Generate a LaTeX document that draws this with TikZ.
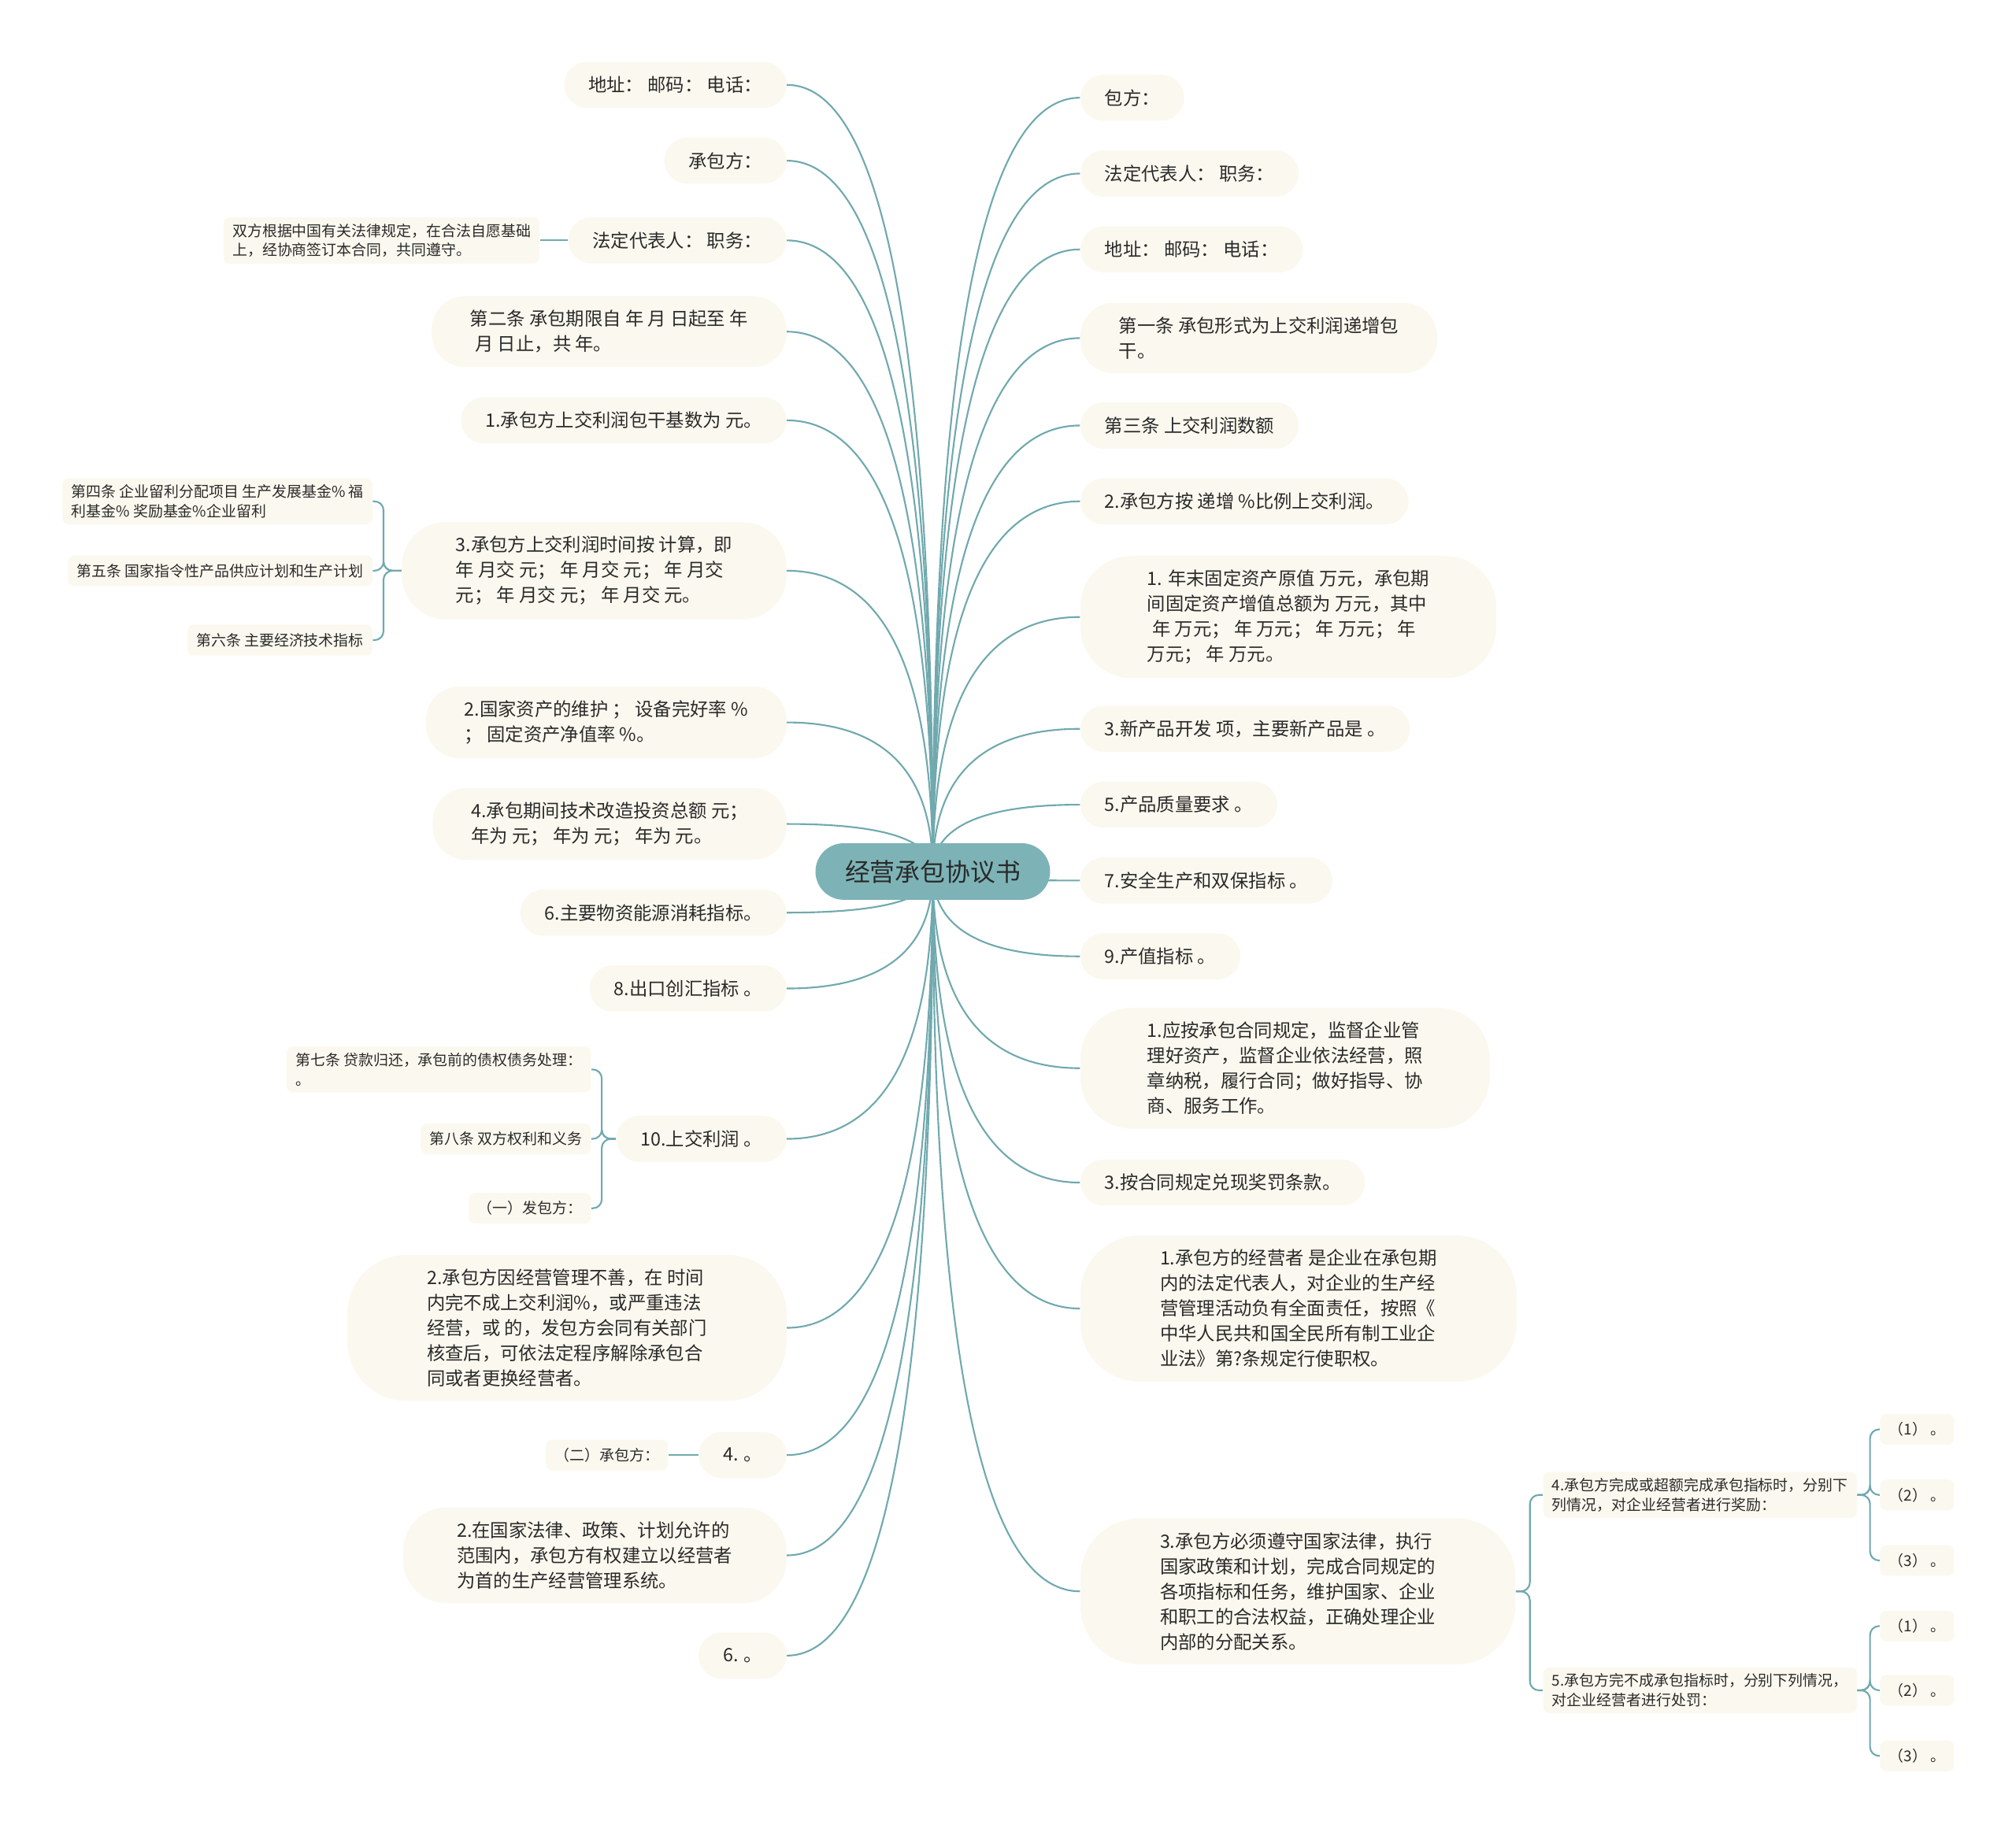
\documentclass[tikz,border=0pt]{standalone}
\usepackage{fontspec}
\newfontfamily\cjk{Noto Sans CJK SC}
\usepackage{tikz}
\usetikzlibrary{backgrounds,calc}
\definecolor{rootTeal}{HTML}{7DB3B7}
\definecolor{branchTeal}{HTML}{70A9AE}
\definecolor{topicCream}{HTML}{FBF9EF}
\definecolor{inkDark}{HTML}{2A2A2A}

\newcommand\rootfont{\cjk\fontsize{19.5pt}{24pt}\selectfont}
\newcommand\topicfont{\cjk\fontsize{14.3pt}{19.6pt}\selectfont}
\newcommand\leaffont{\cjk\fontsize{11.6pt}{15pt}\selectfont}

\tikzset{
  rootnode/.style={fill=rootTeal, text=inkDark, font=\rootfont,
    rounded corners=22pt, minimum height=44pt, inner xsep=23pt},
  topicnode/.style={fill=topicCream, text=inkDark, font=\topicfont, align=left,
    rounded corners=18pt, minimum height=36pt, inner xsep=19pt, inner ysep=11pt},
  lines2/.style={inner xsep=30pt, rounded corners=26pt},
  lines3/.style={inner xsep=42pt, rounded corners=34pt},
  lines4/.style={inner xsep=52pt, rounded corners=40pt},
  lines5/.style={inner xsep=62pt, rounded corners=46pt},
  leafnode/.style={fill=topicCream, text=inkDark, font=\leaffont, align=left,
    rounded corners=5pt, minimum height=24pt, inner xsep=7pt, inner ysep=5pt},
  branchline/.style={draw=branchTeal, line width=1.3pt},
  bracketline/.style={branchline, rounded corners=7pt},
}

\begin{document}
\begin{tikzpicture}[x=1pt, y=-1pt]
  \useasboundingbox (0,0) rectangle (1568,1428);

  % root
  \node[rootnode] (root) at (725.5,678) {经营承包协议书};

  % left side
  \node[topicnode, anchor=east] (L1) at (612,66) {地址： 邮码： 电话：};
  \node[topicnode, anchor=east] (L2) at (612,125) {承包方：};
  \node[topicnode, anchor=east] (L3) at (612,187) {法定代表人： 职务：};
  \node[topicnode, lines2, anchor=east] (L4) at (612,258) {第二条 承包期限自 年 月 日起至 年\\\hspace*{4pt}月 日止，共 年。};
  \node[topicnode, anchor=east] (L5) at (612,327) {1.承包方上交利润包干基数为 元。};
  \node[topicnode, lines3, anchor=east] (L6) at (612,444) {3.承包方上交利润时间按 计算，即\\年 月交 元； 年 月交 元； 年 月交\\元； 年 月交 元； 年 月交 元。};
  \node[topicnode, lines2, anchor=east] (L7) at (612,562) {2.国家资产的维护 ； 设备完好率 \%\\； 固定资产净值率 \%。};
  \node[topicnode, lines2, anchor=east] (L8) at (612,641) {4.承包期间技术改造投资总额 元；\\年为 元； 年为 元； 年为 元。};
  \node[topicnode, anchor=east] (L9) at (612,710) {6.主要物资能源消耗指标。};
  \node[topicnode, anchor=east] (L10) at (612,769) {8.出口创汇指标 。};
  \node[topicnode, anchor=east] (L11) at (612,886) {10.上交利润 。};
  \node[topicnode, lines5, anchor=east] (L12) at (612,1033) {2.承包方因经营管理不善，在 时间\\内完不成上交利润\%，或严重违法\\经营，或 的，发包方会同有关部门\\核查后，可依法定程序解除承包合\\同或者更换经营者。};
  \node[topicnode, anchor=east] (L13) at (612,1132) {4. 。};
  \node[topicnode, lines3, anchor=east] (L14) at (612,1210) {2.在国家法律、政策、计划允许的\\范围内，承包方有权建立以经营者\\为首的生产经营管理系统。};
  \node[topicnode, anchor=east] (L15) at (612,1288) {6. 。};

  % right side
  \node[topicnode, anchor=west] (R1) at (840,76) {包方：};
  \node[topicnode, anchor=west] (R2) at (840,135) {法定代表人： 职务：};
  \node[topicnode, anchor=west] (R3) at (840,194) {地址： 邮码： 电话：};
  \node[topicnode, lines2, anchor=west] (R4) at (840,263) {第一条 承包形式为上交利润递增包\\干。};
  \node[topicnode, anchor=west] (R5) at (840,331) {第三条 上交利润数额};
  \node[topicnode, anchor=west] (R6) at (840,390) {2.承包方按 递增 \%比例上交利润。};
  \node[topicnode, lines4, anchor=west] (R7) at (840,480) {1. 年末固定资产原值 万元，承包期\\间固定资产增值总额为 万元，其中\\\hspace*{4pt}年 万元； 年 万元； 年 万元； 年\\万元； 年 万元。};
  \node[topicnode, anchor=west] (R8) at (840,567) {3.新产品开发 项，主要新产品是 。};
  \node[topicnode, anchor=west] (R9) at (840,626) {5.产品质量要求 。};
  \node[topicnode, anchor=west] (R10) at (840,685) {7.安全生产和双保指标 。};
  \node[topicnode, anchor=west] (R11) at (840,744) {9.产值指标 。};
  \node[topicnode, lines4, anchor=west] (R12) at (840,831) {1.应按承包合同规定，监督企业管\\理好资产，监督企业依法经营，照\\章纳税，履行合同；做好指导、协\\商、服务工作。};
  \node[topicnode, anchor=west] (R13) at (840,920) {3.按合同规定兑现奖罚条款。};
  \node[topicnode, lines5, anchor=west] (R14) at (840,1018) {1.承包方的经营者 是企业在承包期\\内的法定代表人，对企业的生产经\\营管理活动负有全面责任，按照《\\中华人民共和国全民所有制工业企\\业法》第?条规定行使职权。};
  \node[topicnode, lines5, anchor=west] (R15) at (840,1238) {3.承包方必须遵守国家法律，执行\\国家政策和计划，完成合同规定的\\各项指标和任务，维护国家、企业\\和职工的合法权益，正确处理企业\\内部的分配关系。};

  % sub topics
  \node[leafnode, anchor=east] (L3a) at (420,187) {双方根据中国有关法律规定，在合法自愿基础\\上，经协商签订本合同，共同遵守。};
  \node[leafnode, anchor=east] (L6a) at (290,390) {第四条 企业留利分配项目 生产发展基金\% 福\\利基金\% 奖励基金\%企业留利};
  \node[leafnode, anchor=east] (L6b) at (290,444) {第五条 国家指令性产品供应计划和生产计划};
  \node[leafnode, anchor=east] (L6c) at (290,498) {第六条 主要经济技术指标};
  \node[leafnode, anchor=east] (L11a) at (460,832) {第七条 贷款归还，承包前的债权债务处理：\\。};
  \node[leafnode, anchor=east] (L11b) at (460,886) {第八条 双方权利和义务};
  \node[leafnode, anchor=east] (L11c) at (460,940) {（一）发包方：};
  \node[leafnode, anchor=east] (L13a) at (520,1132) {（二）承包方：};
  \node[leafnode, anchor=west] (R15a) at (1200,1163) {4.承包方完成或超额完成承包指标时，分别下\\列情况，对企业经营者进行奖励：};
  \node[leafnode, anchor=west] (R15b) at (1200,1315) {5.承包方完不成承包指标时，分别下列情况，\\对企业经营者进行处罚：};
  \foreach \k/\y in {1/1112,2/1163,3/1214}
    \node[leafnode, anchor=west] (R15a\k) at (1462,\y) {（\k） 。};
  \foreach \k/\y in {1/1265,2/1315,3/1366}
    \node[leafnode, anchor=west] (R15b\k) at (1462,\y) {（\k） 。};

  % bracket joints
  \coordinate (L6j) at ([xshift=-14pt]L6.west);
  \coordinate (L11j) at ([xshift=-11pt]L11.west);
  \coordinate (R15j) at ([xshift=11pt]R15.east);
  \coordinate (R15aj) at ([xshift=10pt]R15a.east);
  \coordinate (R15bj) at ([xshift=10pt]R15b.east);

  \begin{scope}[on background layer]
    % quadratic curves from the root, bent at the corner point
    \foreach \i in {1,...,15}{
      \draw[branchline] (root.center)
        .. controls ($(root.center)!0.667!(root.center |- L\i.east)$)
        and ($(L\i.east)!0.667!(root.center |- L\i.east)$) .. (L\i.east);
      \draw[branchline] (root.center)
        .. controls ($(root.center)!0.667!(root.center |- R\i.west)$)
        and ($(R\i.west)!0.667!(root.center |- R\i.west)$) .. (R\i.west);
    }
    \draw[branchline] (L3.west) -- (L3a.east);
    \draw[branchline] (L13.west) -- (L13a.east);
    \foreach \c in {a,b,c}{
      \draw[bracketline] (L6.west) -- (L6j) |- (L6\c.east);
      \draw[bracketline] (L11.west) -- (L11j) |- (L11\c.east);
    }
    \foreach \c in {a,b}
      \draw[bracketline] (R15.east) -- (R15j) |- (R15\c.west);
    \foreach \k in {1,2,3}{
      \draw[bracketline] (R15a.east) -- (R15aj) |- (R15a\k.west);
      \draw[bracketline] (R15b.east) -- (R15bj) |- (R15b\k.west);
    }
  \end{scope}
\end{tikzpicture}
\end{document}
